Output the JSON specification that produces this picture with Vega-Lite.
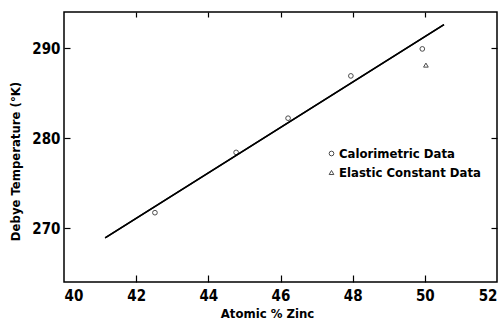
{
  "$schema": "https://vega.github.io/schema/vega-lite/v6.json",
  "width": 433,
  "height": 270,
  "autosize": {"type": "none"},
  "padding": {"left": 64, "top": 12, "right": 3, "bottom": 40},
  "background": "white",
  "resolve": {"axis": {"x": "independent", "y": "independent"}},
  "config": {
    "view": {"stroke": "black", "strokeWidth": 1.5},
    "font": "DejaVu Sans Condensed, sans-serif",
    "axis": {
      "domain": false,
      "grid": false,
      "tickColor": "black",
      "tickSize": 6,
      "tickWidth": 1.2,
      "labelColor": "black",
      "labelFont": "DejaVu Sans Condensed, sans-serif",
      "labelFontSize": 15,
      "labelFontWeight": "bold",
      "titleColor": "black",
      "titleFont": "DejaVu Sans Condensed, sans-serif",
      "titleFontSize": 13,
      "titleFontWeight": "bold"
    }
  },
  "datasets": {
    "pts": [
      {"zinc": 42.52, "temp": 271.7, "series": "Calorimetric Data"},
      {"zinc": 44.77, "temp": 278.4, "series": "Calorimetric Data"},
      {"zinc": 46.21, "temp": 282.2, "series": "Calorimetric Data"},
      {"zinc": 47.95, "temp": 286.9, "series": "Calorimetric Data"},
      {"zinc": 49.93, "temp": 289.9, "series": "Calorimetric Data"},
      {"zinc": 50.03, "temp": 288.1, "series": "Elastic Constant Data"}
    ],
    "fit": [
      {"zinc": 41.14, "temp": 268.9},
      {"zinc": 50.53, "temp": 292.6}
    ]
  },
  "layer": [
    {
      "data": {"name": "fit"},
      "mark": {"type": "line", "color": "black", "strokeWidth": 1.5},
      "encoding": {
        "x": {
          "field": "zinc", "type": "quantitative",
          "scale": {"domain": [40, 52], "nice": false, "zero": false},
          "axis": {"orient": "bottom", "values": [40, 42, 44, 46, 48, 50, 52], "ticks": false, "title": "Atomic % Zinc", "labelPadding": 6, "titlePadding": 4, "titleX": 203}
        },
        "y": {
          "field": "temp", "type": "quantitative",
          "scale": {"domain": [264, 294], "nice": false, "zero": false},
          "axis": {"orient": "left", "values": [270, 280, 290], "ticks": false, "title": "Debye Temperature (°K)", "labelPadding": 4, "titlePadding": 9, "titleY": 149}
        }
      }
    },
    {
      "data": {"name": "pts"},
      "mark": {"type": "point", "filled": false, "color": "black", "size": 22, "strokeWidth": 1},
      "encoding": {
        "x": {
          "field": "zinc", "type": "quantitative",
          "axis": {"orient": "top", "values": [42, 44, 46, 48, 50], "labels": false, "title": null, "offset": -5, "tickSize": 5}
        },
        "y": {
          "field": "temp", "type": "quantitative",
          "axis": {"orient": "right", "values": [270, 280, 290], "labels": false, "title": null, "offset": -6}
        },
        "shape": {
          "field": "series", "type": "nominal",
          "scale": {"domain": ["Calorimetric Data", "Elastic Constant Data"], "range": ["circle", "triangle-up"]},
          "legend": {
            "orient": "none", "legendX": 261, "legendY": 135, "title": null,
            "symbolStrokeColor": "black", "symbolFillColor": "transparent", "symbolSize": 22, "symbolStrokeWidth": 1,
            "labelFont": "DejaVu Sans Condensed, sans-serif",
            "labelFontSize": 13, "labelFontWeight": "bold", "labelColor": "black",
            "labelOffset": 1, "rowPadding": 5, "labelLimit": 0
          }
        }
      }
    },
    {
      "data": {"name": "fit"},
      "mark": {"type": "line", "color": "black", "strokeWidth": 1.5},
      "encoding": {
        "x": {
          "field": "zinc", "type": "quantitative",
          "axis": {"orient": "bottom", "values": [42, 44, 46, 48, 50], "labels": false, "title": null, "offset": -7, "tickSize": 7}
        },
        "y": {
          "field": "temp", "type": "quantitative",
          "axis": {"orient": "left", "values": [270, 280, 290], "labels": false, "title": null, "offset": -6}
        }
      }
    }
  ]
}
